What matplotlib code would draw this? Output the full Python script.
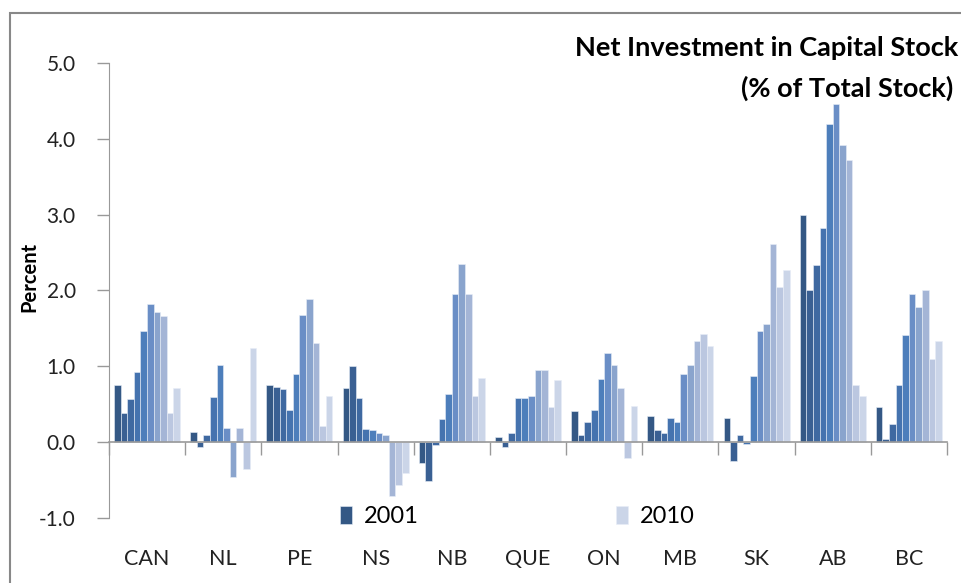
import numpy as np
import matplotlib.pyplot as plt
from matplotlib.patches import Rectangle
from matplotlib.transforms import blended_transform_factory

plt.rcParams['font.family'] = ['Lato', 'DejaVu Sans']

provinces = ["CAN", "NL", "PE", "NS", "NB", "QUE", "ON", "MB", "SK", "AB", "BC"]
years = list(range(2001, 2011))

# net investment, % of total stock, 2001..2010 for each province
can = [0.76, 0.38, 0.57, 0.93, 1.47, 1.82, 1.71, 1.66, 0.39, 0.71]
nl = [0.14, -0.06, 0.10, 0.60, 1.02, 0.19, -0.46, 0.19, -0.35, 1.24]
pe = [0.76, 0.73, 0.70, 0.43, 0.90, 1.68, 1.89, 1.31, 0.21, 0.61]
ns = [0.71, 1.00, 0.58, 0.17, 0.16, 0.12, 0.09, -0.71, -0.56, -0.41]
nb = [-0.28, -0.51, -0.04, 0.31, 0.63, 1.95, 2.35, 1.95, 0.61, 0.85]
que = [0.07, -0.07, 0.12, 0.58, 0.58, 0.61, 0.95, 0.95, 0.46, 0.82]
on = [0.41, 0.09, 0.26, 0.43, 0.83, 1.18, 1.02, 0.71, -0.21, 0.48]
mb = [0.34, 0.16, 0.12, 0.32, 0.26, 0.90, 1.02, 1.34, 1.42, 1.27]
sk = [0.32, -0.25, 0.09, -0.03, 0.87, 1.46, 1.56, 2.61, 2.04, 2.27]
ab = [3.00, 2.00, 2.33, 2.82, 4.19, 4.46, 3.92, 3.72, 0.76, 0.61]
bc = [0.46, 0.04, 0.24, 0.75, 1.41, 1.96, 1.78, 2.01, 1.09, 1.34]

colors = ["#345885", "#3A6093", "#3F69A1", "#4573AF", "#4D7EBB",
          "#6A8EC6", "#8AA4CD", "#A4B5D6", "#BBC7E0", "#CBD5E8"]

data = np.array([can, nl, pe, ns, nb, que, on, mb, sk, ab, bc])

fig = plt.figure(figsize=(9.61, 5.83), dpi=100)
ax = fig.add_axes([0.1134, 0.1115, 0.872, 0.7805])

x = np.arange(len(provinces))
w = 0.0866
for i, yr in enumerate(years):
    ax.bar(x - 0.433 + w * (i + 0.5), data[:, i], w, color=colors[i],
           edgecolor="#e8eef7", linewidth=0.4, label=str(yr), zorder=2)

ax.set_xlim(-0.5, len(provinces) - 0.5)
ax.set_ylim(-1, 5)
yt = np.arange(-1, 5.1, 1.0)
ax.set_yticks(yt)
ax.set_yticklabels([f"{v:.1f}" for v in yt], fontsize=15, color="#222222")
ax.tick_params(axis="y", direction="out", length=9, width=1, color="#999999", pad=15)

for s in ["top", "right"]:
    ax.spines[s].set_visible(False)
ax.spines["left"].set_color("#999999")
ax.spines["bottom"].set_position(("data", 0))
ax.spines["bottom"].set_color("#999999")
ax.spines["bottom"].set_linewidth(1.2)
ax.set_xticks(np.arange(len(provinces) + 1) - 0.5)
ax.set_xticklabels([])
ax.tick_params(axis="x", direction="out", length=9, width=1, color="#999999")

trans = blended_transform_factory(ax.transData, ax.transAxes)
for xi, p in zip(x, provinces):
    ax.text(xi, -0.09, p, transform=trans, ha="center", va="center", fontsize=15.5, color="#222222")

ax.set_ylabel("Percent", fontsize=14.5, fontweight="bold")
ax.yaxis.set_label_coords(-0.083, 0.53)

fig.text(0.997, 0.918, "Net Investment in Capital Stock", ha="right", va="center",
         fontsize=19.5, fontweight="bold")
fig.text(0.992, 0.849, "(% of Total Stock)", ha="right", va="center",
         fontsize=19.5, fontweight="bold")

# legend showing first and last year only
handles, labels = ax.get_legend_handles_labels()
leg1 = ax.legend([handles[0]], [labels[0]], loc="center", bbox_to_anchor=(0.323, 0.003),
                 frameon=False, fontsize=17, handlelength=0.5, handleheight=0.8, handletextpad=0.5)
ax.add_artist(leg1)
ax.legend([handles[-1]], [labels[-1]], loc="center", bbox_to_anchor=(0.652, 0.003),
          frameon=False, fontsize=17, handlelength=0.5, handleheight=0.8, handletextpad=0.5)

fig.patches.append(Rectangle((10 / 961, -0.1), 1.1, 1 - 13 / 583 + 0.1, transform=fig.transFigure,
                             fill=False, edgecolor="#888888", linewidth=1.5))

fig.savefig("out.png", dpi=100)
